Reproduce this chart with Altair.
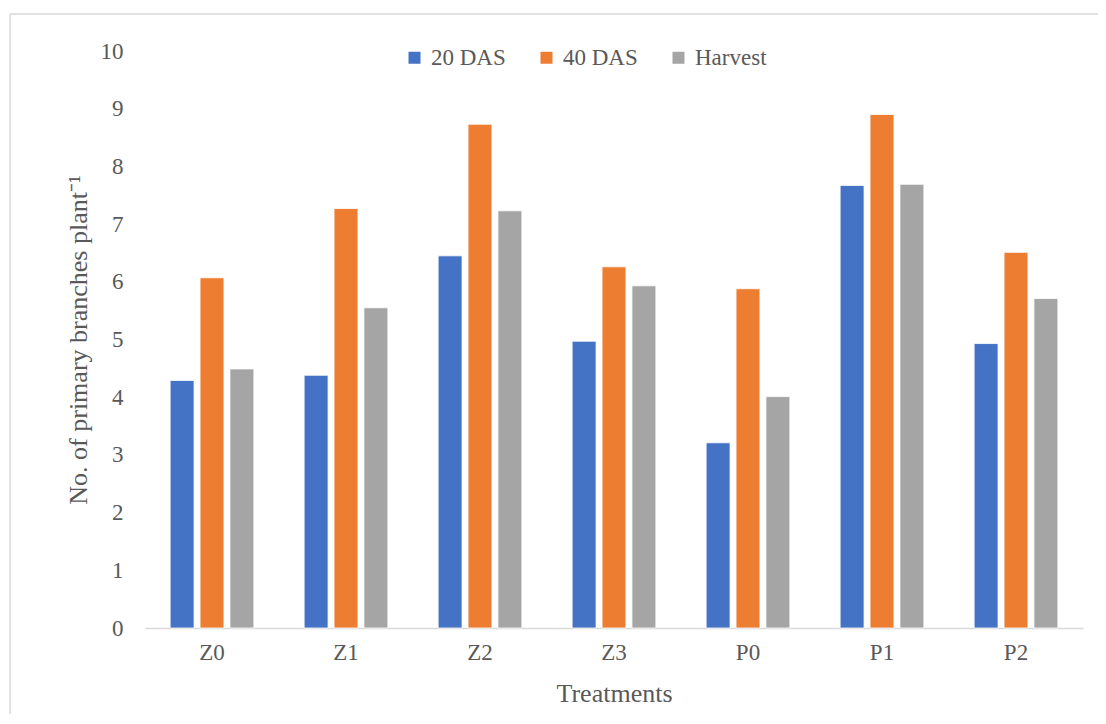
import altair as alt
import pandas as pd

treatments = ["Z0", "Z1", "Z2", "Z3", "P0", "P1", "P2"]
series = ["20 DAS", "40 DAS", "Harvest"]
das20 = [4.29, 4.38, 6.45, 4.97, 3.21, 7.67, 4.93]
das40 = [6.07, 7.27, 8.73, 6.26, 5.88, 8.90, 6.51]
harvest = [4.49, 5.55, 7.23, 5.93, 4.01, 7.69, 5.71]
colors = ["#4472C4", "#ED7D31", "#A5A5A5"]

rows = []
for name, vals in zip(series, [das20, das40, harvest]):
    for t, v in zip(treatments, vals):
        rows.append({"Treatment": t, "Stage": name, "Value": v})
df = pd.DataFrame(rows)

FONT = "Liberation Serif"
TXT = "#595959"
W, H = 938, 577

bars = alt.Chart(df).mark_bar(stroke="white", strokeWidth=0.8).encode(
    x=alt.X("Treatment:N", sort=treatments,
            scale=alt.Scale(paddingInner=0.375, paddingOuter=0.1875),
            axis=alt.Axis(title="Treatments", labelAngle=0, ticks=False,
                          domainColor="#D9D9D9", domainWidth=1.5,
                          labelFont=FONT, labelFontSize=23, labelColor=TXT,
                          labelPadding=13, titleFont=FONT, titleFontSize=26,
                          titleFontWeight="normal", titleColor=TXT, titlePadding=16)),
    xOffset=alt.XOffset("Stage:N", sort=series,
                        scale=alt.Scale(paddingInner=0.2, paddingOuter=0)),
    y=alt.Y("Value:Q", scale=alt.Scale(domain=[0, 10], nice=False),
            axis=alt.Axis(title="No. of primary branches plant⁻¹", values=list(range(11)),
                          grid=False, ticks=False, domain=False,
                          labelFont=FONT, labelFontSize=23, labelColor=TXT,
                          labelPadding=22, titleFont=FONT, titleFontSize=26,
                          titleFontWeight="normal", titleColor=TXT, titlePadding=9)),
    color=alt.Color("Stage:N", sort=series,
                    scale=alt.Scale(domain=series, range=colors),
                    legend=alt.Legend(title=None, orient="none", direction="horizontal",
                                      legendX=258, legendY=-5, padding=0,
                                      symbolType="square",
                                      symbolSize=144, symbolStrokeWidth=0,
                                      labelFont=FONT, labelFontSize=23, labelColor=TXT,
                                      labelOffset=5, columnPadding=29)),
)

frame_df = pd.DataFrame({"a": [0]})
top_line = alt.Chart(frame_df).mark_rule(color="#D9D9D9", strokeWidth=1.5).encode(
    x=alt.value(-135), x2=alt.value(W + 100), y=alt.value(-37),
)
left_line = alt.Chart(frame_df).mark_rule(color="#D9D9D9", strokeWidth=1.5).encode(
    x=alt.value(-135), y=alt.value(-37), y2=alt.value(H + 150),
)

chart = alt.layer(top_line, left_line, bars).properties(
    width=W, height=H,
    background="white",
    autosize=alt.AutoSizeParams(type="none"),
    padding={"left": 137, "top": 43, "right": 15, "bottom": 86},
).configure_view(stroke="transparent", strokeWidth=0).configure_legend(
    labelFont=FONT, labelFontSize=23, labelColor=TXT
)

chart.save("out.html", embed_options={"renderer": "svg", "actions": False})
